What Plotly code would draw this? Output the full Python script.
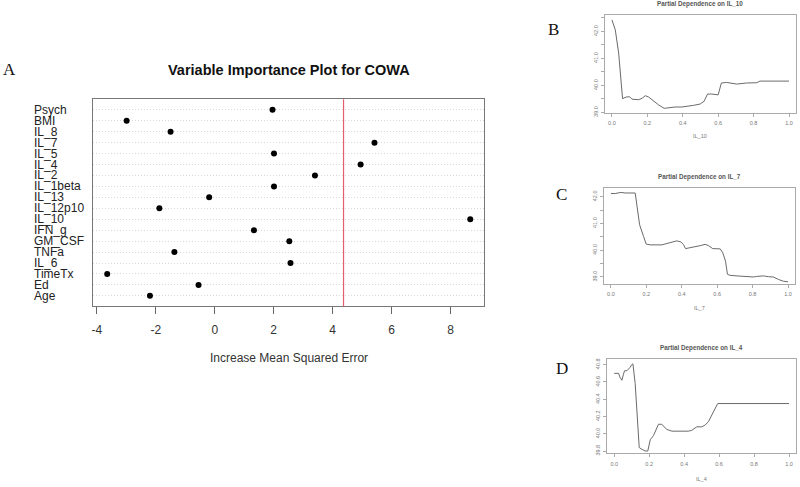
import plotly.graph_objects as go

# ---------------- Panel A data ----------------
variables = ["Psych", "BMI", "IL_8", "IL_7", "IL_5", "IL_4", "IL_2", "IL_1beta", "IL_13",
             "IL_12p10", "IL_10", "IFN_g", "GM_CSF", "TNFa", "IL_6", "TimeTx", "Ed", "Age"]
inc_mse = [1.96, -2.99, -1.50, 5.42, 2.01, 4.95, 3.40, 2.01, -0.19,
           -1.88, 8.67, 1.33, 2.53, -1.37, 2.57, -3.65, -0.55, -2.20]
threshold = 4.37
a_xticks = [-4, -2, 0, 2, 4, 6, 8]
a_xtext = ["-4", "-2", "0", "2", "4", "6", "8"]

# ---------------- Panel B data (IL_10) ----------------
b_x = [0.0, 0.019, 0.038, 0.06, 0.081, 0.10, 0.113, 0.15, 0.17, 0.188, 0.207, 0.235, 0.263,
       0.295, 0.32, 0.357, 0.395, 0.423, 0.46, 0.498, 0.52, 0.54, 0.564, 0.60, 0.618, 0.648,
       0.705, 0.76, 0.818, 0.836, 1.0]
b_y = [42.43, 42.06, 41.20, 39.51, 39.57, 39.58, 39.49, 39.47, 39.52, 39.62, 39.57, 39.41, 39.28,
       39.15, 39.17, 39.20, 39.20, 39.22, 39.26, 39.31, 39.41, 39.68, 39.68, 39.65, 40.09, 40.11,
       40.05, 40.09, 40.10, 40.16, 40.16]

# ---------------- Panel C data (IL_7) ----------------
c_x = [0.0, 0.024, 0.056, 0.08, 0.137, 0.147, 0.162, 0.184, 0.199, 0.222, 0.259, 0.288, 0.316,
       0.344, 0.372, 0.395, 0.41, 0.421, 0.447, 0.476, 0.504, 0.532, 0.551, 0.575, 0.617, 0.632,
       0.647, 0.658, 0.673, 0.711, 0.748, 0.767, 0.805, 0.823, 0.861, 0.889, 0.917, 0.945, 0.974, 1.0]
c_y = [42.12, 42.12, 42.16, 42.14, 42.14, 41.69, 40.95, 40.52, 40.23, 40.20, 40.19, 40.20, 40.25,
       40.30, 40.35, 40.31, 40.21, 40.06, 40.09, 40.12, 40.17, 40.22, 40.17, 40.06, 40.05, 39.90,
       39.59, 39.10, 39.06, 39.04, 39.02, 39.01, 39.00, 39.02, 39.04, 39.01, 39.00, 38.91, 38.84, 38.82]

# ---------------- Panel D data (IL_4) ----------------
d_x = [0.0, 0.025, 0.034, 0.044, 0.053, 0.059, 0.072, 0.082, 0.091, 0.10, 0.107, 0.12, 0.13,
       0.143, 0.158, 0.177, 0.192, 0.206, 0.225, 0.24, 0.253, 0.272, 0.286, 0.30, 0.33, 0.377,
       0.425, 0.444, 0.472, 0.50, 0.52, 0.539, 0.558, 0.577, 0.592, 1.0]
d_y = [40.70, 40.70, 40.65, 40.62, 40.69, 40.73, 40.73, 40.75, 40.77, 40.80, 40.81, 40.58, 40.27,
       39.84, 39.82, 39.80, 39.80, 39.93, 39.98, 40.04, 40.11, 40.11, 40.08, 40.05, 40.03, 40.03,
       40.03, 40.04, 40.08, 40.08, 40.10, 40.14, 40.21, 40.29, 40.35, 40.35]

pd_xticks = [0.0, 0.2, 0.4, 0.6, 0.8, 1.0]
pd_xtext = ["0.0", "0.2", "0.4", "0.6", "0.8", "1.0"]
bc_yticks = [39.0, 39.5, 40.0, 40.5, 41.0, 41.5, 42.0, 42.5]
bc_ytext = ["39.0", "", "40.0", "", "41.0", "", "42.0", ""]
d_yticks = [39.8, 40.0, 40.2, 40.4, 40.6, 40.8]
d_ytext = ["39.8", "40.0", "40.2", "40.4", "40.6", "40.8"]

W, H = 800, 487
SANS = "Liberation Sans, Arial, sans-serif"
SERIF = "Liberation Serif, Times New Roman, serif"


def px(x):
    return x / W


def py(y):
    return 1 - y / H


n = len(variables)
rows = list(range(n, 0, -1))

fig = go.Figure()

# Panel A dots
fig.add_trace(go.Scatter(x=inc_mse, y=rows, mode="markers",
                         marker=dict(color="black", size=6),
                         xaxis="x", yaxis="y", showlegend=False, hoverinfo="x"))

# Panels B, C, D curves
line_col = "#6a6a6a"
fig.add_trace(go.Scatter(x=b_x, y=b_y, mode="lines", line=dict(color=line_col, width=1),
                         xaxis="x2", yaxis="y2", showlegend=False))
fig.add_trace(go.Scatter(x=c_x, y=c_y, mode="lines", line=dict(color=line_col, width=1),
                         xaxis="x3", yaxis="y3", showlegend=False))
fig.add_trace(go.Scatter(x=d_x, y=d_y, mode="lines", line=dict(color=line_col, width=1),
                         xaxis="x4", yaxis="y4", showlegend=False))

# red threshold line in panel A
fig.add_shape(type="line", xref="x", yref="y domain", x0=threshold, x1=threshold, y0=0, y1=1,
              line=dict(color="rgb(228,95,110)", width=1.2), layer="above")

small_tick_font = dict(family=SANS, size=5.5, color="#777")
box_col = "#aaaaaa"


def small_x(domain, anchor):
    return dict(domain=domain, anchor=anchor, range=[-0.04, 1.04], tickvals=pd_xticks,
                ticktext=pd_xtext, ticks="outside", ticklen=3, tickcolor=box_col,
                tickfont=small_tick_font, showline=True, linecolor=box_col, mirror=True,
                showgrid=False, zeroline=False, ticklabelstandoff=2)


def small_y(domain, anchor, rng, tv, tt):
    return dict(domain=domain, anchor=anchor, range=rng, tickvals=tv, ticktext=tt,
                ticks="outside", ticklen=3, tickcolor=box_col, tickangle=-90,
                tickfont=small_tick_font, showline=True, linecolor=box_col, mirror=True,
                showgrid=False, zeroline=False, ticklabelstandoff=1)


fig.update_layout(
    width=W, height=H,
    margin=dict(l=0, r=0, t=0, b=0),
    paper_bgcolor="white", plot_bgcolor="white",
    showlegend=False,
    xaxis=dict(domain=[px(92), px(484)], anchor="y", range=[-4.136, 9.15],
               tickvals=a_xticks, ticktext=a_xtext, ticks="outside", ticklen=7, tickcolor="#666",
               tickfont=dict(family=SANS, size=12, color="#333"),
               showline=True, linecolor="#777", mirror=True, showgrid=False, zeroline=False,
               ticklabelstandoff=5),
    yaxis=dict(domain=[py(309), py(100)], anchor="x", range=[0.03, n + 0.97],
               tickvals=rows, showticklabels=False, ticks="",
               showline=True, linecolor="#777", mirror=True,
               showgrid=True, gridcolor="#d8d8d8", griddash="1px,2px", gridwidth=1, zeroline=False),
    xaxis2=small_x([px(604.6), px(796.1)], "y2"),
    yaxis2=small_y([py(113.6), py(15.4)], "x2", [38.99, 42.6], bc_yticks, bc_ytext),
    xaxis3=small_x([px(603.6), px(795.1)], "y3"),
    yaxis3=small_y([py(286), py(190)], "x3", [38.75, 42.31], bc_yticks, bc_ytext),
    xaxis4=small_x([px(607), px(796)], "y4"),
    yaxis4=small_y([py(457), py(362)], "x4", [39.774, 40.866], d_yticks, d_ytext),
)

ann = []
# Panel A labels (left aligned, like R dotchart)
for lab, r in zip(variables, rows):
    ann.append(dict(text=lab, xref="paper", yref="y", x=px(32), y=r, xanchor="left",
                    yanchor="middle", showarrow=False, borderpad=0,
                    font=dict(family=SANS, size=12, color="#222")))
# Panel A title and axis title
ann.append(dict(text="<b>Variable Importance Plot for COWA</b>", xref="paper", yref="paper",
                x=px(288), y=py(70.7), xanchor="center", yanchor="middle", showarrow=False,
                font=dict(family=SANS, size=14.5, color="#111")))
ann.append(dict(text="Increase Mean Squared Error", xref="paper", yref="paper",
                x=px(288), y=py(360.7), xanchor="center", yanchor="middle", showarrow=False,
                font=dict(family=SANS, size=12, color="#333")))

# Panel letters
for letter, (lx, ly) in zip(["A", "B", "C", "D"], [(9, 70.5), (553, 30), (561, 196), (562, 372)]):
    ann.append(dict(text=letter, xref="paper", yref="paper", x=px(lx), y=py(ly),
                    xanchor="center", yanchor="middle", showarrow=False,
                    font=dict(family=SERIF, size=17, color="#111")))

# Small panels titles & axis titles
for title, xlab, cx, ty, xy in [("Partial Dependence on IL_10", "IL_10", 700, 4.5, 136.7),
                                ("Partial Dependence on IL_7", "IL_7", 699, 178.3, 310.7),
                                ("Partial Dependence on IL_4", "IL_4", 701, 351, 483.3)]:
    ann.append(dict(text="<b>" + title + "</b>", xref="paper", yref="paper", x=px(cx), y=py(ty),
                    xanchor="center", yanchor="middle", showarrow=False,
                    font=dict(family=SANS, size=6.3, color="#555")))
    ann.append(dict(text=xlab, xref="paper", yref="paper", x=px(cx), y=py(xy),
                    xanchor="center", yanchor="middle", showarrow=False,
                    font=dict(family=SANS, size=5.5, color="#777")))

fig.update_layout(annotations=ann)

fig.write_html("out.html", config={"displayModeBar": False},
               post_script="document.body.style.margin='0';")
